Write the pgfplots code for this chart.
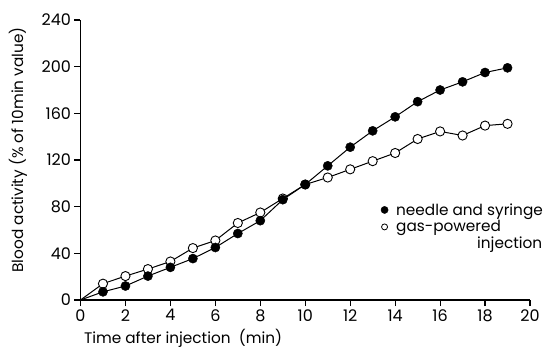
\documentclass[border=0pt]{standalone}
\usepackage{fontspec}
\setmainfont{Poppins}
\usepackage{pgfplots}
\pgfplotsset{compat=1.18}
\protected\def\gasentry{\begin{tabular}[t]{@{}l@{}}gas-powered\\\hspace*{81pt}injection\end{tabular}}
\begin{document}
\begin{tikzpicture}
\path[use as bounding box] (-80.5pt,-48pt) rectangle (465.5pt,300pt);
\begin{axis}[
  scale only axis, width=449.5pt, height=280pt,
  xmin=0, xmax=20, ymin=0, ymax=240,
  axis lines=left, axis line style={-, line width=1.5pt},
  xtick={0,2,4,6,8,10,12,14,16,18,20}, ytick={0,40,80,120,160,200,240},
  tick align=outside, major tick length=6pt,
  tick style={line width=1.2pt, black},
  /pgf/number format/assume math mode=true,
  ticklabel style={font=\fontsize{16}{18}\selectfont},
  xlabel={Time after injection\ \ (min)},
  xlabel style={at={(rel axis cs:0,0)}, anchor=base west, yshift=-43pt, font=\fontsize{15.3}{17}\selectfont},
  ylabel={Blood activity (\% of 10min value)},
  ylabel style={at={(rel axis cs:0,0.536)}, anchor=center, yshift=62.5pt, font=\fontsize{15.3}{17}\selectfont},
  legend style={at={(0.668,0.353)}, anchor=north west, draw=none, fill=none,
    inner sep=0pt, row sep=0pt, column sep=6pt, font=\fontsize{15.3}{16}\selectfont},
  legend cell align=left,
]
\addlegendimage{only marks, mark=*, mark size=3.6pt, black, mark options={fill=black}}
\addlegendentry{needle and syringe}
\addlegendimage{only marks, mark=*, mark size=3pt, black, line width=0.8pt, mark options={fill=white}}
\addlegendentry{\gasentry}
% gas-powered injection
\addplot[black, line width=1pt, forget plot] coordinates {(0,0) (1,14) (2,20.5) (3,26.5) (4,33) (5,44.5) (6,51) (7,66) (8,75) (9,87) (10,99)
  (11,105) (12,112) (13,119) (14,126) (15,138) (16,144.5) (17,141) (18,149.5) (19,151)};
\addplot[only marks, mark=*, mark size=4.6pt, forget plot, mark options={fill=white, draw=black, line width=0.9pt}]
  coordinates {(1,14) (2,20.5) (3,26.5) (4,33) (5,44.5) (6,51) (7,66) (8,75) (9,87) (10,99)
  (11,105) (12,112) (13,119) (14,126) (15,138) (16,144.5) (17,141) (18,149.5) (19,151)};
% needle and syringe
\addplot[black, line width=1pt, forget plot] coordinates {(0,0) (1,7) (2,12) (3,20.5) (4,28) (5,35.5) (6,45) (7,57) (8,68) (9,86) (10,99)
  (11,115) (12,131) (13,145) (14,157) (15,170) (16,180) (17,187) (18,195) (19,199)};
\addplot[only marks, mark=*, mark size=4.6pt, forget plot, mark options={fill=black, draw=black}]
  coordinates {(1,7) (2,12) (3,20.5) (4,28) (5,35.5) (6,45) (7,57) (8,68) (9,86) (10,99)
  (11,115) (12,131) (13,145) (14,157) (15,170) (16,180) (17,187) (18,195) (19,199)};
\end{axis}
\end{tikzpicture}
\end{document}
